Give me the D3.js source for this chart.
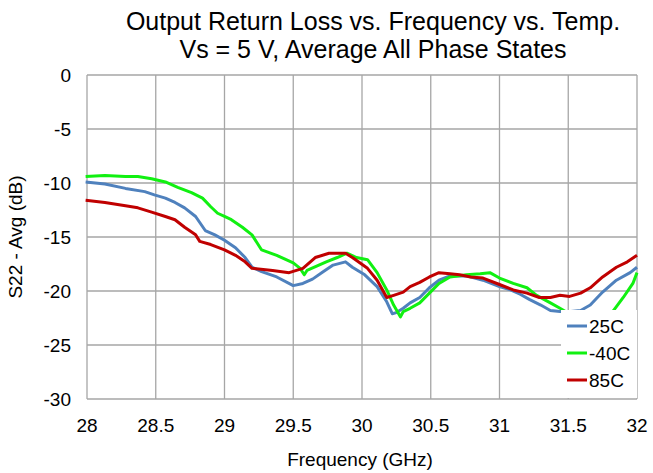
<!DOCTYPE html>
<html>
<head>
<meta charset="utf-8">
<script src="https://cdn.jsdelivr.net/npm/d3@7"></script>
<style>
  body { margin: 0; background: #fff; }
  text { font-family: "Liberation Sans", Arial, sans-serif; fill: #000; }
</style>
</head>
<body>
<script>
// data
var freq25 = [27.99, 28.13, 28.28, 28.42, 28.49, 28.57, 28.64, 28.71, 28.79, 28.86, 28.93, 29.0, 29.08, 29.15, 29.2, 29.27, 29.38, 29.5, 29.57, 29.64, 29.72, 29.79, 29.88, 29.93, 30.02, 30.11, 30.18, 30.22, 30.25, 30.3, 30.35, 30.42, 30.49, 30.56, 30.64, 30.76, 30.88, 31.0, 31.08, 31.15, 31.22, 31.3, 31.37, 31.44, 31.52, 31.59, 31.66, 31.75, 31.85, 31.95, 32.0];
var s25 = [-9.9, -10.1, -10.5, -10.8, -11.1, -11.4, -11.8, -12.3, -13.1, -14.4, -14.8, -15.3, -16.0, -16.9, -17.8, -18.2, -18.7, -19.5, -19.3, -18.9, -18.2, -17.6, -17.3, -17.8, -18.5, -19.6, -21.0, -22.1, -22.0, -21.6, -21.1, -20.6, -19.7, -19.0, -18.6, -18.6, -19.0, -19.6, -19.9, -20.3, -20.8, -21.3, -21.8, -21.9, -21.9, -21.8, -21.3, -20.1, -19.0, -18.3, -17.8];

var freq40 = [27.99, 28.13, 28.28, 28.37, 28.47, 28.57, 28.66, 28.76, 28.84, 28.9, 28.95, 29.0, 29.05, 29.13, 29.2, 29.27, 29.38, 29.5, 29.55, 29.58, 29.6, 29.67, 29.74, 29.82, 29.89, 29.96, 30.04, 30.11, 30.18, 30.23, 30.28, 30.3, 30.35, 30.42, 30.49, 30.56, 30.64, 30.76, 30.86, 30.93, 31.0, 31.1, 31.2, 31.27, 31.37, 31.44, 31.48, 31.6, 31.72, 31.83, 31.9, 31.97, 32.0];
var s40 = [-9.4, -9.3, -9.4, -9.4, -9.6, -9.9, -10.4, -10.9, -11.4, -12.2, -12.8, -13.1, -13.4, -14.1, -14.8, -16.2, -16.7, -17.4, -17.9, -18.5, -18.1, -17.7, -17.3, -16.9, -16.5, -16.9, -17.1, -18.3, -19.9, -21.3, -22.4, -21.9, -21.6, -21.1, -20.2, -19.3, -18.7, -18.5, -18.4, -18.3, -18.8, -19.3, -19.7, -20.4, -21.1, -21.6, -21.9, -22.8, -23.0, -21.8, -20.6, -19.3, -18.3];

var freq85 = [27.99, 28.13, 28.28, 28.37, 28.47, 28.57, 28.64, 28.71, 28.79, 28.82, 28.9, 29.0, 29.08, 29.15, 29.2, 29.35, 29.47, 29.57, 29.66, 29.76, 29.88, 29.93, 30.04, 30.11, 30.18, 30.23, 30.3, 30.35, 30.42, 30.49, 30.56, 30.64, 30.71, 30.79, 30.88, 31.0, 31.1, 31.2, 31.29, 31.37, 31.44, 31.51, 31.59, 31.66, 31.75, 31.85, 31.93, 32.0];
var s85 = [-11.6, -11.8, -12.1, -12.3, -12.7, -13.1, -13.4, -14.1, -14.8, -15.4, -15.7, -16.2, -16.7, -17.3, -17.9, -18.1, -18.3, -17.9, -16.9, -16.5, -16.5, -16.9, -17.9, -19.0, -20.6, -20.4, -20.1, -19.6, -19.2, -18.7, -18.3, -18.4, -18.5, -18.7, -18.8, -19.4, -19.9, -20.2, -20.6, -20.6, -20.4, -20.5, -20.2, -19.7, -18.7, -17.8, -17.3, -16.7];

var xTicks = [28, 28.5, 29, 29.5, 30, 30.5, 31, 31.5, 32];
var yTicks = [0, -5, -10, -15, -20, -25, -30];
var seriesNames = ['25C', '-40C', '85C'];
var seriesColors = ['#4f81bd', '#11f011', '#c00000'];

var svgWidth = 653, svgHeight = 473;
var plotLeft = 87, plotRight = 637, plotTop = 75, plotBottom = 399;

var svg = d3.select('body').append('svg')
  .attr('width', svgWidth)
  .attr('height', svgHeight);

var x = d3.scaleLinear().domain([28, 32]).range([plotLeft, plotRight]);
var y = d3.scaleLinear().domain([-30, 0]).range([plotBottom, plotTop]);

// grid
svg.selectAll('.vgrid').data(xTicks).enter().append('line')
  .attr('x1', function(d) { return x(d); }).attr('x2', function(d) { return x(d); })
  .attr('y1', plotTop).attr('y2', plotBottom)
  .attr('stroke', '#a6a6a6').attr('stroke-width', 1.3);
svg.selectAll('.hgrid').data(yTicks).enter().append('line')
  .attr('y1', function(d) { return y(d); }).attr('y2', function(d) { return y(d); })
  .attr('x1', plotLeft).attr('x2', plotRight)
  .attr('stroke', '#a6a6a6').attr('stroke-width', 1.3);

// tick labels
svg.selectAll('.xl').data(xTicks).enter().append('text')
  .attr('x', function(d) { return x(d); })
  .attr('y', 432)
  .attr('text-anchor', 'middle')
  .style('font-size', '19px')
  .text(function(d) { return d; });
svg.selectAll('.yl').data(yTicks).enter().append('text')
  .attr('x', 71)
  .attr('y', function(d) { return y(d) + 7; })
  .attr('text-anchor', 'end')
  .style('font-size', '19px')
  .text(function(d) { return d; });

// lines
var series = [
  {name: seriesNames[0], xs: freq25, ys: s25},
  {name: seriesNames[1], xs: freq40, ys: s40},
  {name: seriesNames[2], xs: freq85, ys: s85}
];
var line = d3.line()
  .x(function(d) { return x(d[0]); })
  .y(function(d) { return y(d[1]); });

series.forEach(function(s, i) {
  var pts = s.xs.map(function(f, j) { return [f, s.ys[j]]; });
  svg.append('path')
    .datum(pts)
    .attr('d', line)
    .attr('fill', 'none')
    .attr('stroke', seriesColors[i])
    .attr('stroke-width', 3)
    .attr('stroke-linejoin', 'round');
});

// legend
var lg = svg.append('g');
lg.append('rect')
  .attr('x', 561).attr('y', 310).attr('width', 76).attr('height', 88)
  .attr('fill', '#fff');
series.forEach(function(s, i) {
  var ly = 326 + i * 27;
  lg.append('line')
    .attr('x1', 567).attr('x2', 587).attr('y1', ly).attr('y2', ly)
    .attr('stroke', seriesColors[i]).attr('stroke-width', 3);
  lg.append('text')
    .attr('x', 589).attr('y', ly + 7)
    .style('font-size', '19px')
    .text(s.name);
});

// titles
svg.append('text')
  .attr('x', 373).attr('y', 30)
  .attr('text-anchor', 'middle')
  .style('font-size', '25px')
  .text('Output Return Loss vs. Frequency vs. Temp.');
svg.append('text')
  .attr('x', 373).attr('y', 58)
  .attr('text-anchor', 'middle')
  .style('font-size', '25px')
  .text('Vs = 5 V, Average All Phase States');

svg.append('text')
  .attr('x', 360).attr('y', 466)
  .attr('text-anchor', 'middle')
  .style('font-size', '19px')
  .text('Frequency (GHz)');
svg.append('text')
  .attr('transform', 'translate(22,' + ((plotTop + plotBottom) / 2) + ') rotate(-90)')
  .attr('text-anchor', 'middle')
  .style('font-size', '19px')
  .text('S22 - Avg (dB)');
</script>
</body>
</html>
